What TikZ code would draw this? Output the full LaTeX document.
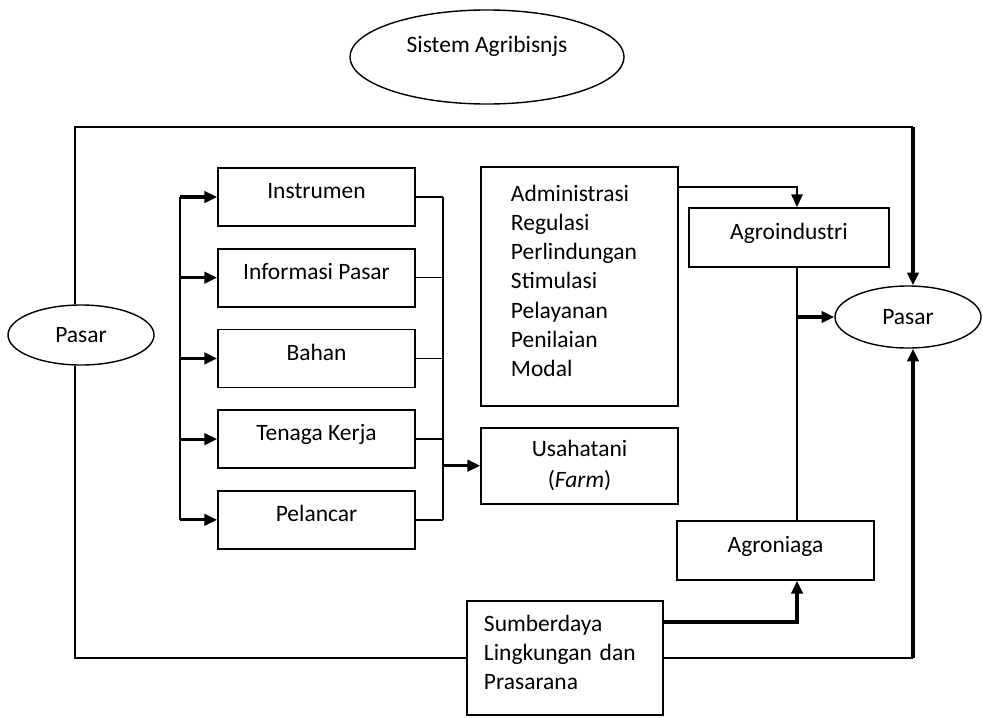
\documentclass[tikz,border=0pt]{standalone}
\usepackage{fontspec}
\setmainfont{Carlito}
\usetikzlibrary{shapes.geometric, arrows.meta, positioning, calc}

\begin{document}
\begin{tikzpicture}[
  x=0.025cm, y=-0.025cm,
  node distance=0.525cm,
  process/.style={rectangle, draw=black, line width=1.2pt, minimum width=4.925cm, minimum height=1.45cm,
    inner sep=0pt, text height=0.5em, text depth=0.25em, font=\fontsize{16.7}{21}\selectfont},
  listbox/.style={rectangle, draw=black, line width=1.2pt, align=left, inner ysep=0pt,
    font=\fontsize{16.7}{20.8}\selectfont},
  oval/.style={ellipse, draw=black, line width=1pt, inner sep=0pt, font=\fontsize{16.7}{21}\selectfont},
  link/.style={line width=1pt},
  arrow/.style={-{Triangle[length=9pt, width=8pt]}, line width=2.2pt},
  thinarrow/.style={-{Triangle[length=9pt, width=8pt]}, line width=1pt}
]
\useasboundingbox (0,0) rectangle (983,717);

\node (sistem) [oval, minimum width=6.85cm, minimum height=2.35cm, text height=0pt, text depth=6pt] at (487,57) {Sistem Agribisnjs};
\node (pasarL) [oval, minimum width=3.65cm, minimum height=1.5cm] at (81,335) {Pasar};
\node (pasarR) [oval, minimum width=3.65cm, minimum height=1.55cm] at (908,317) {Pasar};

\node (instrumen) [process] at (316.5,197) {Instrumen};
\node (informasi) [process, below=of instrumen] {Informasi Pasar};
\node (bahan) [process, below=of informasi] {Bahan};
\node (tenaga) [process, below=of bahan] {Tenaga Kerja};
\node (pelancar) [process, below=of tenaga] {Pelancar};

\node (admin) [listbox, text width=3.425cm, inner xsep=0.75cm, minimum height=5.975cm, text depth=133pt] at (579.5,286.5)
  {Administrasi\\Regulasi\\Perlindungan\\Stimulasi\\Pelayanan\\Penilaian\\Modal};
\node (usahatani) [process, text height=, text depth=, align=center, minimum height=1.9cm,
  font=\fontsize{16.7}{22}\selectfont, below=0.5cm of admin] {Usahatani\\(\textit{Farm})};
\node (agroindustri) [process, minimum width=5cm, minimum height=1.475cm] at (789,237.5) {Agroindustri};
\node (agroniaga) [process, minimum height=1.475cm] at (775.5,550.5) {Agroniaga};
\node (sumberdaya) [listbox, text width=4.05cm, inner xsep=0.425cm, minimum height=2.85cm, text depth=50pt] at (565,658)
  {Sumberdaya\\Lingkungan dan\\Prasarana};

\coordinate (lbus) at (180,197);
\coordinate (rbus) at (443,197);
\coordinate (agx) at (797,267);
\coordinate (tl) at (75,127);
\coordinate (tr) at (913,127);
\coordinate (bl) at (75,658);
\coordinate (br) at (913,658);

% inputs to the left column
\draw [link] (instrumen.west -| lbus) -- (pelancar.west -| lbus);
\foreach \n in {instrumen, informasi, bahan, tenaga, pelancar}
  \draw [arrow] (\n.west -| lbus) -- (\n.west);

% left column to usahatani
\foreach \n in {instrumen, informasi, bahan, tenaga, pelancar}
  \draw [link] (\n.east) -- (\n.east -| rbus);
\draw [link] (instrumen.east -| rbus) -- (pelancar.east -| rbus);
\draw [arrow] (usahatani.west -| rbus) -- (usahatani.west);

\draw [thinarrow] ([yshift=-0.525cm]admin.north east) -| (agx |- agroindustri.north);
\draw [link] (agx |- agroindustri.south) -- (agx |- agroniaga.north);
\draw [arrow] (agx |- pasarR) -- (pasarR.west);
\draw [arrow] ([yshift=0.9cm]sumberdaya.east) -| (agx |- agroniaga.south);

% outer frame
\draw [link] (pasarL.north -| tl) -- (tl) -- (tr);
\draw [arrow] (tr) -- (pasarR.north -| tr);
\draw [link] (pasarL.south -| bl) -- (bl) -- (sumberdaya.west);
\draw [link] (sumberdaya.east) -- (br);
\draw [arrow] (br) -- (pasarR.south -| br);

\end{tikzpicture}
\end{document}
